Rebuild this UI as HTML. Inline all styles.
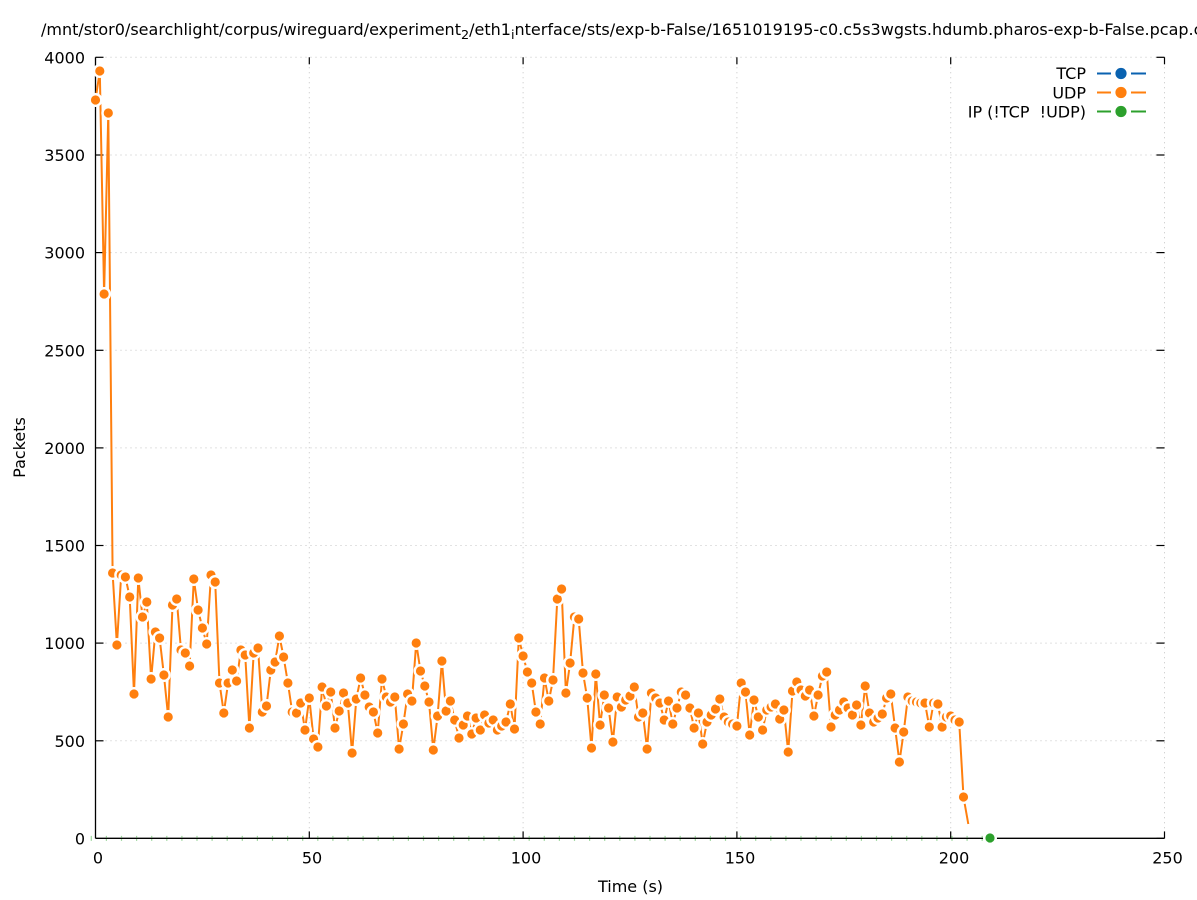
<!DOCTYPE html>
<html>
<head>
<meta charset="utf-8">
<style>
  html, body { margin: 0; padding: 0; background: #ffffff; }
  svg { display: block; }
  text { font-family: "DejaVu Sans", "Liberation Sans", sans-serif; font-size: 16px; fill: #000; }
</style>
</head>
<body>
<svg width="1197" height="900" viewBox="0 0 1197 900" xmlns="http://www.w3.org/2000/svg">
  <rect x="0" y="0" width="1197" height="900" fill="#ffffff"/>

  <!-- Title -->
  <text x="41" y="35" xml:space="preserve">/mnt/stor0/searchlight/corpus/wireguard/experiment<tspan dy="4" font-size="12.8">2</tspan><tspan dy="-4">/eth1</tspan><tspan dy="4" font-size="12.8">i</tspan><tspan dy="-4">nterface/sts/exp-b-False/1651019195-c0.c5s3wgsts.hdumb.pharos-exp-b-False.pcap.c</tspan></text>

  <!-- Grid -->
  <g stroke="#c4c4c4" stroke-width="1" stroke-dasharray="1,4" fill="none">
    <line x1="95.5" y1="57.3" x2="1164.5" y2="57.3"/>
    <line x1="95.5" y1="155" x2="1164.5" y2="155"/>
    <line x1="95.5" y1="252.6" x2="1164.5" y2="252.6"/>
    <line x1="95.5" y1="350.3" x2="1164.5" y2="350.3"/>
    <line x1="95.5" y1="447.9" x2="1164.5" y2="447.9"/>
    <line x1="95.5" y1="545.5" x2="1164.5" y2="545.5"/>
    <line x1="95.5" y1="643.1" x2="1164.5" y2="643.1"/>
    <line x1="95.5" y1="740.8" x2="1164.5" y2="740.8"/>
    <line x1="309.3" y1="57.3" x2="309.3" y2="838.4"/>
    <line x1="523.1" y1="57.3" x2="523.1" y2="838.4"/>
    <line x1="736.9" y1="57.3" x2="736.9" y2="838.4"/>
    <line x1="950.7" y1="57.3" x2="950.7" y2="838.4"/>
    <line x1="1164.5" y1="57.3" x2="1164.5" y2="838.4"/>
  </g>

  <!-- Axes / border (left + bottom) -->
  <g stroke="#000" stroke-width="1.3" fill="none">
    <line x1="95.5" y1="57.3" x2="95.5" y2="838.4"/>
    <line x1="95.5" y1="838.4" x2="1164.5" y2="838.4"/>
  </g>
  <!-- Ticks -->
  <g stroke="#000" stroke-width="1.2" fill="none">
    <line x1="95.5" y1="57.3" x2="103.5" y2="57.3"/>
    <line x1="95.5" y1="155" x2="103.5" y2="155"/>
    <line x1="95.5" y1="252.6" x2="103.5" y2="252.6"/>
    <line x1="95.5" y1="350.3" x2="103.5" y2="350.3"/>
    <line x1="95.5" y1="447.9" x2="103.5" y2="447.9"/>
    <line x1="95.5" y1="545.5" x2="103.5" y2="545.5"/>
    <line x1="95.5" y1="643.1" x2="103.5" y2="643.1"/>
    <line x1="95.5" y1="740.8" x2="103.5" y2="740.8"/>
    <line x1="1156.5" y1="57.3" x2="1164.5" y2="57.3"/>
    <line x1="1156.5" y1="155" x2="1164.5" y2="155"/>
    <line x1="1156.5" y1="252.6" x2="1164.5" y2="252.6"/>
    <line x1="1156.5" y1="350.3" x2="1164.5" y2="350.3"/>
    <line x1="1156.5" y1="447.9" x2="1164.5" y2="447.9"/>
    <line x1="1156.5" y1="545.5" x2="1164.5" y2="545.5"/>
    <line x1="1156.5" y1="643.1" x2="1164.5" y2="643.1"/>
    <line x1="1156.5" y1="740.8" x2="1164.5" y2="740.8"/>
    <line x1="1156.5" y1="838.4" x2="1164.5" y2="838.4"/>
    <line x1="309.3" y1="57.3" x2="309.3" y2="64.3"/>
    <line x1="523.1" y1="57.3" x2="523.1" y2="64.3"/>
    <line x1="736.9" y1="57.3" x2="736.9" y2="64.3"/>
    <line x1="950.7" y1="57.3" x2="950.7" y2="64.3"/>
    <line x1="1164.5" y1="57.3" x2="1164.5" y2="64.3"/>
    <line x1="309.3" y1="838.4" x2="309.3" y2="831.4"/>
    <line x1="523.1" y1="838.4" x2="523.1" y2="831.4"/>
    <line x1="736.9" y1="838.4" x2="736.9" y2="831.4"/>
    <line x1="950.7" y1="838.4" x2="950.7" y2="831.4"/>
    <line x1="1164.5" y1="838.4" x2="1164.5" y2="831.4"/>
  </g>

  <!-- Y tick labels -->
  <g text-anchor="end">
    <text x="85" y="63.3">4000</text>
    <text x="85" y="161">3500</text>
    <text x="85" y="258.6">3000</text>
    <text x="85" y="356.3">2500</text>
    <text x="85" y="453.9">2000</text>
    <text x="85" y="551.5">1500</text>
    <text x="85" y="649.1">1000</text>
    <text x="85" y="746.8">500</text>
    <text x="85" y="844.4">0</text>
  </g>
  <!-- X tick labels -->
  <g text-anchor="middle">
    <text x="98" y="863.5">0</text>
    <text x="312" y="863.5">50</text>
    <text x="526" y="863.5">100</text>
    <text x="740" y="863.5">150</text>
    <text x="954" y="863.5">200</text>
    <text x="1167.5" y="863.5">250</text>
  </g>

  <!-- Axis labels -->
  <text x="630.5" y="892" text-anchor="middle">Time (s)</text>
  <text transform="translate(25,447.5) rotate(-90)" text-anchor="middle">Packets</text>

  <!-- Green series (IP) along y=0 -->
  <line x1="90.7" y1="838.4" x2="985" y2="838.4" stroke="#9fd89f" stroke-width="5" stroke-dasharray="1.2,13.9"/>
  <line x1="95.5" y1="838.4" x2="1164.5" y2="838.4" stroke="#000" stroke-width="1.3"/>

  <!-- UDP line -->
  <polyline fill="none" stroke="#ff7f0e" stroke-width="2" stroke-linejoin="round" points="95.5,100 99.8,71 104.1,294 108.3,113 112.6,573 116.9,645 121.2,575 125.4,577 129.7,597 134.0,694 138.3,578 142.5,617 146.8,602 151.1,679 155.4,632 159.6,638 163.9,675 168.2,717 172.5,605 176.7,599 181.0,650 185.3,653 189.6,666 193.8,579 198.1,610 202.4,628 206.7,644 211.0,575 215.2,582 219.5,683 223.8,713 228.1,683 232.3,670 236.6,681 240.9,650 245.2,655 249.4,728 253.7,653 258.0,648 262.3,712 266.5,706 270.8,670 275.1,662 279.4,636 283.6,657 287.9,683 292.2,712 296.5,713 300.7,703 305.0,730 309.3,698 313.6,739 317.9,747 322.1,687 326.4,706 330.7,692 335.0,728 339.2,711 343.5,693 347.8,703 352.1,753 356.3,699 360.6,678 364.9,695 369.2,707 373.4,712 377.7,733 382.0,679 386.3,697 390.5,702 394.8,697 399.1,749 403.4,724 407.6,694 411.9,701 416.2,643 420.5,671 424.8,686 429.0,702 433.3,750 437.6,716 441.9,661 446.1,711 450.4,701 454.7,720 459.0,738 463.2,725 467.5,716 471.8,734 476.1,718 480.3,730 484.6,715 488.9,723 493.2,720 497.4,730 501.7,726 506.0,722 510.3,704 514.5,729 518.8,638 523.1,656 527.4,672 531.7,683 535.9,712 540.2,724 544.5,678 548.8,701 553.0,680 557.3,599 561.6,589 565.9,693 570.1,663 574.4,617 578.7,619 583.0,673 587.2,698 591.5,748 595.8,674 600.1,725 604.3,695 608.6,708 612.9,742 617.2,697 621.4,707 625.7,700 630.0,696 634.3,687 638.5,717 642.8,713 647.1,749 651.4,693 655.7,698 659.9,703 664.2,720 668.5,701 672.8,724 677.0,708 681.3,692 685.6,695 689.9,708 694.1,728 698.4,713 702.7,744 707.0,722 711.2,715 715.5,709 719.8,699 724.1,717 728.3,722 732.6,724 736.9,726 741.2,683 745.5,692 749.7,735 754.0,700 758.3,717 762.6,730 766.8,710 771.1,707 775.4,704 779.7,719 783.9,710 788.2,752 792.5,691 796.8,682 801.0,690 805.3,696 809.6,690 813.9,716 818.1,695 822.4,676 826.7,672 831.0,727 835.2,715 839.5,710 843.8,702 848.1,708 852.4,715 856.6,705 860.9,725 865.2,686 869.5,713 873.7,722 878.0,718 882.3,714 886.6,698 890.8,694 895.1,728 899.4,762 903.7,732 907.9,697 912.2,701 916.5,702 920.8,703 925.0,703 929.3,727 933.6,703 937.9,704 942.1,727 946.4,717 950.7,716 955.0,720 959.2,722 963.5,797 968.3,824"/>

  <!-- UDP points -->
  <g fill="#ff7f0e" stroke="#ffffff" stroke-width="2.4">
    <circle cx="95.5" cy="100" r="5.8"/><circle cx="99.8" cy="71" r="5.8"/><circle cx="104.1" cy="294" r="5.8"/><circle cx="108.3" cy="113" r="5.8"/><circle cx="112.6" cy="573" r="5.8"/><circle cx="116.9" cy="645" r="5.8"/><circle cx="121.2" cy="575" r="5.8"/><circle cx="125.4" cy="577" r="5.8"/><circle cx="129.7" cy="597" r="5.8"/><circle cx="134.0" cy="694" r="5.8"/>
    <circle cx="138.3" cy="578" r="5.8"/><circle cx="142.5" cy="617" r="5.8"/><circle cx="146.8" cy="602" r="5.8"/><circle cx="151.1" cy="679" r="5.8"/><circle cx="155.4" cy="632" r="5.8"/><circle cx="159.6" cy="638" r="5.8"/><circle cx="163.9" cy="675" r="5.8"/><circle cx="168.2" cy="717" r="5.8"/><circle cx="172.5" cy="605" r="5.8"/><circle cx="176.7" cy="599" r="5.8"/>
    <circle cx="181.0" cy="650" r="5.8"/><circle cx="185.3" cy="653" r="5.8"/><circle cx="189.6" cy="666" r="5.8"/><circle cx="193.8" cy="579" r="5.8"/><circle cx="198.1" cy="610" r="5.8"/><circle cx="202.4" cy="628" r="5.8"/><circle cx="206.7" cy="644" r="5.8"/><circle cx="211.0" cy="575" r="5.8"/><circle cx="215.2" cy="582" r="5.8"/><circle cx="219.5" cy="683" r="5.8"/>
    <circle cx="223.8" cy="713" r="5.8"/><circle cx="228.1" cy="683" r="5.8"/><circle cx="232.3" cy="670" r="5.8"/><circle cx="236.6" cy="681" r="5.8"/><circle cx="240.9" cy="650" r="5.8"/><circle cx="245.2" cy="655" r="5.8"/><circle cx="249.4" cy="728" r="5.8"/><circle cx="253.7" cy="653" r="5.8"/><circle cx="258.0" cy="648" r="5.8"/><circle cx="262.3" cy="712" r="5.8"/>
    <circle cx="266.5" cy="706" r="5.8"/><circle cx="270.8" cy="670" r="5.8"/><circle cx="275.1" cy="662" r="5.8"/><circle cx="279.4" cy="636" r="5.8"/><circle cx="283.6" cy="657" r="5.8"/><circle cx="287.9" cy="683" r="5.8"/><circle cx="292.2" cy="712" r="5.8"/><circle cx="296.5" cy="713" r="5.8"/><circle cx="300.7" cy="703" r="5.8"/><circle cx="305.0" cy="730" r="5.8"/>
    <circle cx="309.3" cy="698" r="5.8"/><circle cx="313.6" cy="739" r="5.8"/><circle cx="317.9" cy="747" r="5.8"/><circle cx="322.1" cy="687" r="5.8"/><circle cx="326.4" cy="706" r="5.8"/><circle cx="330.7" cy="692" r="5.8"/><circle cx="335.0" cy="728" r="5.8"/><circle cx="339.2" cy="711" r="5.8"/><circle cx="343.5" cy="693" r="5.8"/><circle cx="347.8" cy="703" r="5.8"/>
    <circle cx="352.1" cy="753" r="5.8"/><circle cx="356.3" cy="699" r="5.8"/><circle cx="360.6" cy="678" r="5.8"/><circle cx="364.9" cy="695" r="5.8"/><circle cx="369.2" cy="707" r="5.8"/><circle cx="373.4" cy="712" r="5.8"/><circle cx="377.7" cy="733" r="5.8"/><circle cx="382.0" cy="679" r="5.8"/><circle cx="386.3" cy="697" r="5.8"/><circle cx="390.5" cy="702" r="5.8"/>
    <circle cx="394.8" cy="697" r="5.8"/><circle cx="399.1" cy="749" r="5.8"/><circle cx="403.4" cy="724" r="5.8"/><circle cx="407.6" cy="694" r="5.8"/><circle cx="411.9" cy="701" r="5.8"/><circle cx="416.2" cy="643" r="5.8"/><circle cx="420.5" cy="671" r="5.8"/><circle cx="424.8" cy="686" r="5.8"/><circle cx="429.0" cy="702" r="5.8"/><circle cx="433.3" cy="750" r="5.8"/>
    <circle cx="437.6" cy="716" r="5.8"/><circle cx="441.9" cy="661" r="5.8"/><circle cx="446.1" cy="711" r="5.8"/><circle cx="450.4" cy="701" r="5.8"/><circle cx="454.7" cy="720" r="5.8"/><circle cx="459.0" cy="738" r="5.8"/><circle cx="463.2" cy="725" r="5.8"/><circle cx="467.5" cy="716" r="5.8"/><circle cx="471.8" cy="734" r="5.8"/><circle cx="476.1" cy="718" r="5.8"/>
    <circle cx="480.3" cy="730" r="5.8"/><circle cx="484.6" cy="715" r="5.8"/><circle cx="488.9" cy="723" r="5.8"/><circle cx="493.2" cy="720" r="5.8"/><circle cx="497.4" cy="730" r="5.8"/><circle cx="501.7" cy="726" r="5.8"/><circle cx="506.0" cy="722" r="5.8"/><circle cx="510.3" cy="704" r="5.8"/><circle cx="514.5" cy="729" r="5.8"/><circle cx="518.8" cy="638" r="5.8"/>
    <circle cx="523.1" cy="656" r="5.8"/><circle cx="527.4" cy="672" r="5.8"/><circle cx="531.7" cy="683" r="5.8"/><circle cx="535.9" cy="712" r="5.8"/><circle cx="540.2" cy="724" r="5.8"/><circle cx="544.5" cy="678" r="5.8"/><circle cx="548.8" cy="701" r="5.8"/><circle cx="553.0" cy="680" r="5.8"/><circle cx="557.3" cy="599" r="5.8"/><circle cx="561.6" cy="589" r="5.8"/>
    <circle cx="565.9" cy="693" r="5.8"/><circle cx="570.1" cy="663" r="5.8"/><circle cx="574.4" cy="617" r="5.8"/><circle cx="578.7" cy="619" r="5.8"/><circle cx="583.0" cy="673" r="5.8"/><circle cx="587.2" cy="698" r="5.8"/><circle cx="591.5" cy="748" r="5.8"/><circle cx="595.8" cy="674" r="5.8"/><circle cx="600.1" cy="725" r="5.8"/><circle cx="604.3" cy="695" r="5.8"/>
    <circle cx="608.6" cy="708" r="5.8"/><circle cx="612.9" cy="742" r="5.8"/><circle cx="617.2" cy="697" r="5.8"/><circle cx="621.4" cy="707" r="5.8"/><circle cx="625.7" cy="700" r="5.8"/><circle cx="630.0" cy="696" r="5.8"/><circle cx="634.3" cy="687" r="5.8"/><circle cx="638.5" cy="717" r="5.8"/><circle cx="642.8" cy="713" r="5.8"/><circle cx="647.1" cy="749" r="5.8"/>
    <circle cx="651.4" cy="693" r="5.8"/><circle cx="655.7" cy="698" r="5.8"/><circle cx="659.9" cy="703" r="5.8"/><circle cx="664.2" cy="720" r="5.8"/><circle cx="668.5" cy="701" r="5.8"/><circle cx="672.8" cy="724" r="5.8"/><circle cx="677.0" cy="708" r="5.8"/><circle cx="681.3" cy="692" r="5.8"/><circle cx="685.6" cy="695" r="5.8"/><circle cx="689.9" cy="708" r="5.8"/>
    <circle cx="694.1" cy="728" r="5.8"/><circle cx="698.4" cy="713" r="5.8"/><circle cx="702.7" cy="744" r="5.8"/><circle cx="707.0" cy="722" r="5.8"/><circle cx="711.2" cy="715" r="5.8"/><circle cx="715.5" cy="709" r="5.8"/><circle cx="719.8" cy="699" r="5.8"/><circle cx="724.1" cy="717" r="5.8"/><circle cx="728.3" cy="722" r="5.8"/><circle cx="732.6" cy="724" r="5.8"/>
    <circle cx="736.9" cy="726" r="5.8"/><circle cx="741.2" cy="683" r="5.8"/><circle cx="745.5" cy="692" r="5.8"/><circle cx="749.7" cy="735" r="5.8"/><circle cx="754.0" cy="700" r="5.8"/><circle cx="758.3" cy="717" r="5.8"/><circle cx="762.6" cy="730" r="5.8"/><circle cx="766.8" cy="710" r="5.8"/><circle cx="771.1" cy="707" r="5.8"/><circle cx="775.4" cy="704" r="5.8"/>
    <circle cx="779.7" cy="719" r="5.8"/><circle cx="783.9" cy="710" r="5.8"/><circle cx="788.2" cy="752" r="5.8"/><circle cx="792.5" cy="691" r="5.8"/><circle cx="796.8" cy="682" r="5.8"/><circle cx="801.0" cy="690" r="5.8"/><circle cx="805.3" cy="696" r="5.8"/><circle cx="809.6" cy="690" r="5.8"/><circle cx="813.9" cy="716" r="5.8"/><circle cx="818.1" cy="695" r="5.8"/>
    <circle cx="822.4" cy="676" r="5.8"/><circle cx="826.7" cy="672" r="5.8"/><circle cx="831.0" cy="727" r="5.8"/><circle cx="835.2" cy="715" r="5.8"/><circle cx="839.5" cy="710" r="5.8"/><circle cx="843.8" cy="702" r="5.8"/><circle cx="848.1" cy="708" r="5.8"/><circle cx="852.4" cy="715" r="5.8"/><circle cx="856.6" cy="705" r="5.8"/><circle cx="860.9" cy="725" r="5.8"/>
    <circle cx="865.2" cy="686" r="5.8"/><circle cx="869.5" cy="713" r="5.8"/><circle cx="873.7" cy="722" r="5.8"/><circle cx="878.0" cy="718" r="5.8"/><circle cx="882.3" cy="714" r="5.8"/><circle cx="886.6" cy="698" r="5.8"/><circle cx="890.8" cy="694" r="5.8"/><circle cx="895.1" cy="728" r="5.8"/><circle cx="899.4" cy="762" r="5.8"/><circle cx="903.7" cy="732" r="5.8"/>
    <circle cx="907.9" cy="697" r="5.8"/><circle cx="912.2" cy="701" r="5.8"/><circle cx="916.5" cy="702" r="5.8"/><circle cx="920.8" cy="703" r="5.8"/><circle cx="925.0" cy="703" r="5.8"/><circle cx="929.3" cy="727" r="5.8"/><circle cx="933.6" cy="703" r="5.8"/><circle cx="937.9" cy="704" r="5.8"/><circle cx="942.1" cy="727" r="5.8"/><circle cx="946.4" cy="717" r="5.8"/>
    <circle cx="950.7" cy="716" r="5.8"/><circle cx="955.0" cy="720" r="5.8"/><circle cx="959.2" cy="722" r="5.8"/><circle cx="963.5" cy="797" r="5.8"/>
  </g>

  <!-- Green final point -->
  <circle cx="990" cy="838" r="5.8" fill="#2ca02c" stroke="#ffffff" stroke-width="2.4"/>

  <!-- Legend -->
  <g text-anchor="end">
    <text x="1086" y="79">TCP</text>
    <text x="1086" y="98.5">UDP</text>
    <text x="1086" y="117.5" xml:space="preserve">IP (!TCP&#160;&#160;!UDP)</text>
  </g>
  <g stroke-width="2">
    <line x1="1097" y1="73.5" x2="1111" y2="73.5" stroke="#0a62b0"/>
    <line x1="1131" y1="73.5" x2="1146" y2="73.5" stroke="#0a62b0"/>
    <line x1="1097" y1="92.5" x2="1111" y2="92.5" stroke="#ff7f0e"/>
    <line x1="1131" y1="92.5" x2="1146" y2="92.5" stroke="#ff7f0e"/>
    <line x1="1097" y1="111.5" x2="1111" y2="111.5" stroke="#2ca02c"/>
    <line x1="1131" y1="111.5" x2="1146" y2="111.5" stroke="#2ca02c"/>
  </g>
  <circle cx="1121" cy="73.5" r="5.6" fill="#0a62b0"/>
  <circle cx="1121" cy="92.5" r="5.6" fill="#ff7f0e"/>
  <circle cx="1121" cy="111.5" r="5.6" fill="#2ca02c"/>
</svg>
</body>
</html>
